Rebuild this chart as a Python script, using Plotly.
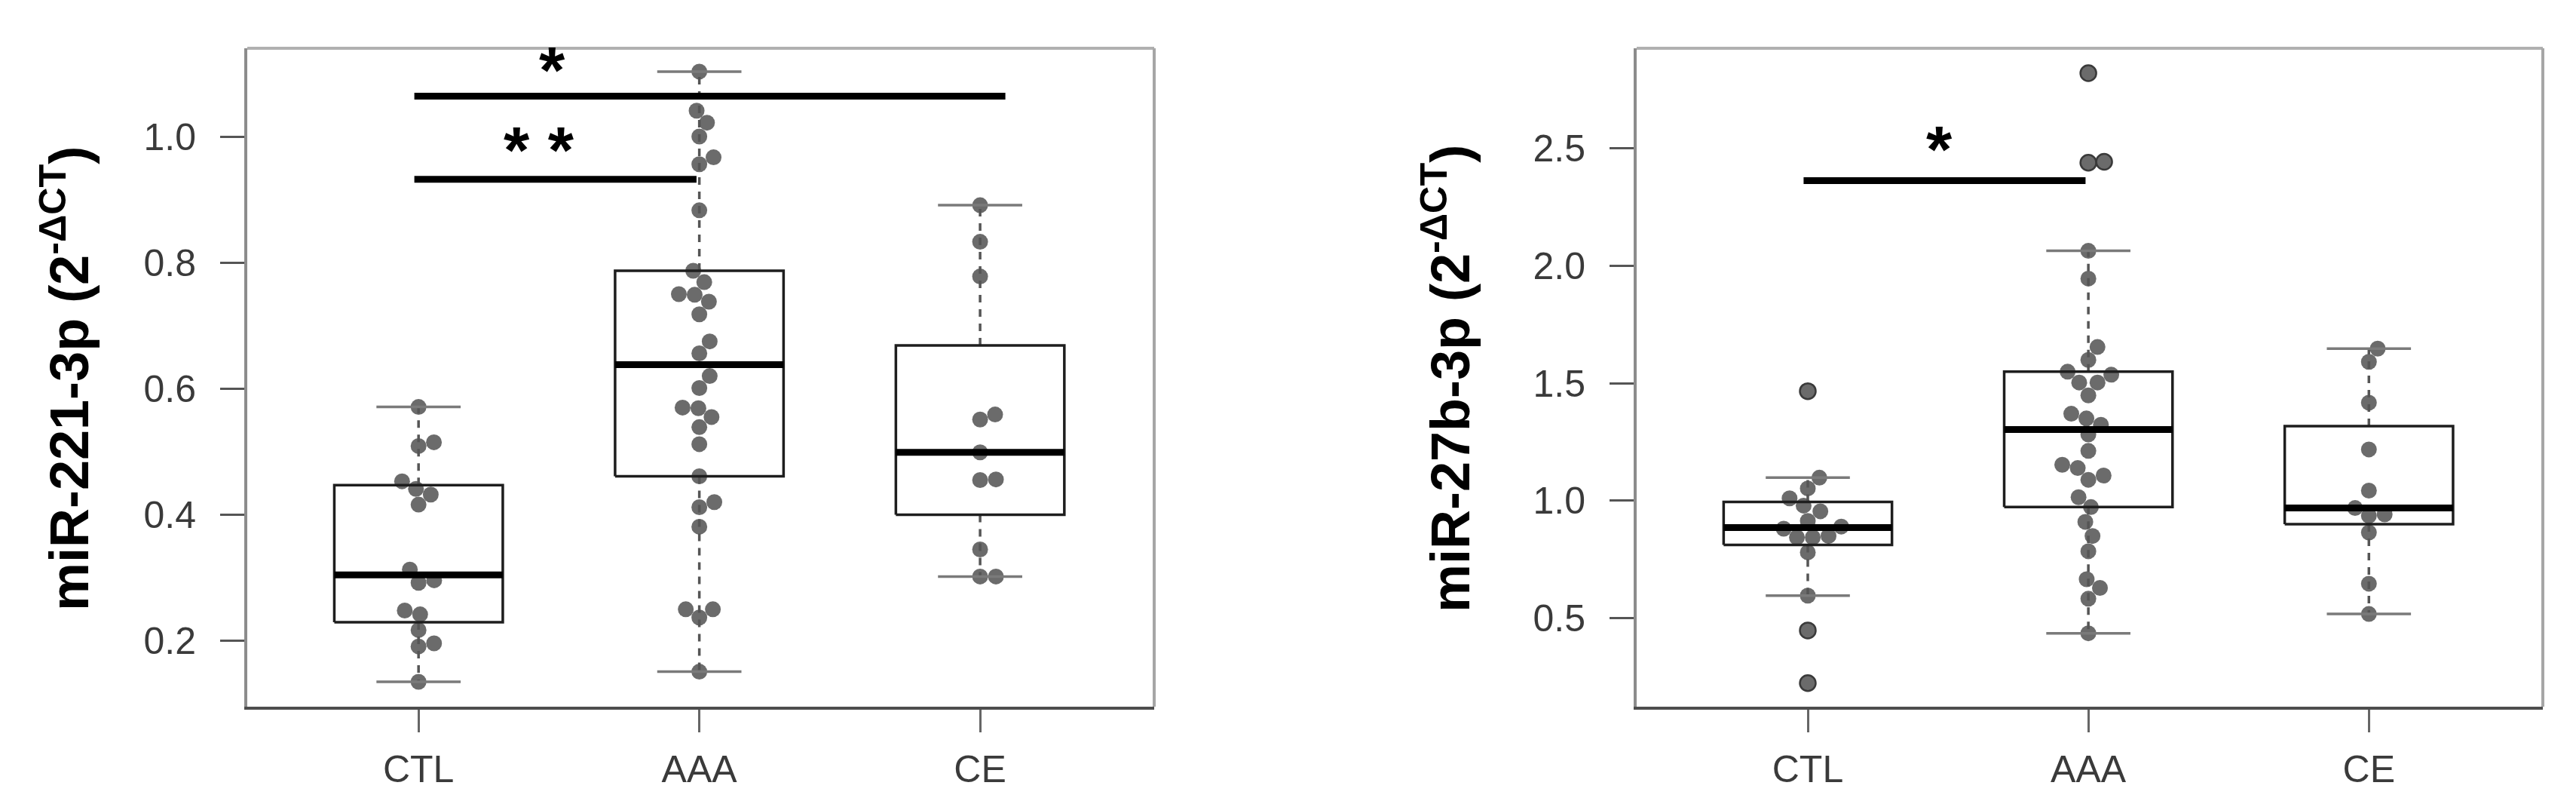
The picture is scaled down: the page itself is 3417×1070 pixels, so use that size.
import numpy as np
import plotly.graph_objects as go

W, H = 3417, 1070

groups = ["CTL", "AAA", "CE"]

# miR-221-3p (left panel)
ctl_221 = [0.571, 0.509, 0.515, 0.453, 0.441, 0.432, 0.416, 0.313, 0.292, 0.296,
           0.242, 0.248, 0.217, 0.191, 0.196, 0.135]
aaa_221 = [1.103, 1.041, 1.022, 1.000, 0.967, 0.956, 0.883, 0.787, 0.769, 0.750,
           0.749, 0.738, 0.718, 0.675, 0.656, 0.620, 0.601, 0.570, 0.569, 0.555,
           0.539, 0.512, 0.461, 0.420, 0.412, 0.381, 0.250, 0.237, 0.250, 0.151]
ce_221 = [0.891, 0.833, 0.778, 0.559, 0.551, 0.499, 0.456, 0.455, 0.345, 0.302, 0.302]

# miR-27b-3p (right panel)
ctl_27b = [1.466, 1.098, 1.052, 1.010, 0.979, 0.955, 0.914, 0.890, 0.881, 0.850,
           0.844, 0.844, 0.780, 0.596, 0.448, 0.224]
aaa_27b = [2.819, 2.442, 2.438, 2.063, 1.945, 1.654, 1.599, 1.549, 1.536, 1.503,
           1.503, 1.448, 1.370, 1.350, 1.323, 1.282, 1.212, 1.153, 1.139, 1.107,
           1.089, 1.015, 0.973, 0.910, 0.850, 0.785, 0.666, 0.629, 0.583, 0.436]
ce_27b = [1.647, 1.591, 1.417, 1.218, 1.043, 0.969, 0.942, 0.936, 0.865, 0.647, 0.518]

# significance bars: (from group, to group, height, label, label height, label x)
sig_221 = [(1, 3.09, 1.064, "*", 1.1125, 1.476), (1, 1.99, 0.932, "* *", 0.9865, 1.43)]
sig_27b = [(1, 1.99, 2.362, "*", 2.517, 1.47)]

yticks_221 = [0.2, 0.4, 0.6, 0.8, 1.0]
yticks_27b = [0.5, 1.0, 1.5, 2.0, 2.5]

PT = "#6b6b6b"
D = 21  # dot diameter in px
XR = [0.39, 3.62]


def fivenum(v):
    x = np.sort(np.asarray(v, float))
    n = len(x)
    n4 = np.floor((n + 3) / 2) / 2
    d = np.array([1, n4, (n + 1) / 2, n + 1 - n4, n]) - 1
    return 0.5 * (x[np.floor(d).astype(int)] + x[np.ceil(d).astype(int)])


def swarm(values, ppu, d=D):
    # simple beeswarm ("swarm" style), offsets in px
    y = np.asarray(values, float) * ppu
    xs = np.zeros(len(y))
    placed = []
    for i in np.argsort(y, kind="stable"):
        near = sorted([j for j in placed if abs(y[j] - y[i]) < d], key=lambda j: abs(y[j] - y[i]))
        offs = [np.sqrt(d * d - (y[j] - y[i]) ** 2) for j in near]
        cands = [0.0] + [xs[j] + o for j, o in zip(near, offs)] + [xs[j] - o for j, o in zip(near, offs)]
        best = None
        for c in cands:
            ok = all((c - xs[j]) ** 2 + (y[i] - y[j]) ** 2 >= 0.999 * d * d for j in near)
            if ok and (best is None or abs(c) < abs(best)):
                best = c
        xs[i] = best
        placed.append(i)
    return xs


def panel(fig, data, xa, ya, xdom, ydom, yrange, yticks, sigs, title, title_x):
    xref, yref = xa.replace("axis", ""), ya.replace("axis", "")
    ppx = (xdom[1] - xdom[0]) * W / (XR[1] - XR[0])
    ppy = (ydom[1] - ydom[0]) * H / (yrange[1] - yrange[0])

    for k, vals in enumerate(data):
        c = k + 1
        v = np.asarray(vals, float)
        q = fivenum(v)
        iqr = q[3] - q[1]
        hi = v[v <= q[3] + 1.5 * iqr].max()
        lo = v[v >= q[1] - 1.5 * iqr].min()
        out = v[(v > hi) | (v < lo)]

        xs = c + swarm(v, ppy) / ppx
        fig.add_trace(go.Scatter(x=xs, y=v, mode="markers", xaxis=xref, yaxis=yref,
                                 marker=dict(size=D, color=PT, line=dict(width=0))))
        if len(out):
            xo = xs[(v > hi) | (v < lo)]
            fig.add_trace(go.Scatter(x=xo, y=out, mode="markers", xaxis=xref, yaxis=yref,
                                     marker=dict(size=D, symbol="circle-open", color="#3a3a3a",
                                                 line=dict(width=2.5))))
        # whiskers
        fig.add_trace(go.Scatter(x=[c, c, None, c, c], y=[q[3], hi, None, q[1], lo], mode="lines",
                                 xaxis=xref, yaxis=yref,
                                 line=dict(color="#555555", width=3.5, dash="10px,9px")))
        fig.add_trace(go.Scatter(x=[c - 0.15, c + 0.15, None, c - 0.15, c + 0.15],
                                 y=[hi, hi, None, lo, lo], mode="lines", xaxis=xref, yaxis=yref,
                                 line=dict(color="#7a7a7a", width=3.5)))
        # box
        fig.add_trace(go.Scatter(x=[c - 0.3, c + 0.3, c + 0.3, c - 0.3, c - 0.3],
                                 y=[q[1], q[1], q[3], q[3], q[1]], mode="lines",
                                 xaxis=xref, yaxis=yref, line=dict(color="#1e1e1e", width=3.5)))
        fig.add_trace(go.Scatter(x=[c - 0.3, c + 0.3], y=[q[2], q[2]], mode="lines",
                                 xaxis=xref, yaxis=yref, line=dict(color="black", width=9)))

    for a, b, h, lab, ly, lx in sigs:
        fig.add_trace(go.Scatter(x=[a - 0.015, b], y=[h, h], mode="lines", xaxis=xref, yaxis=yref,
                                 line=dict(color="black", width=9)))
        fig.add_annotation(x=lx, y=ly, xref=xref, yref=yref, text=lab, showarrow=False,
                           xanchor="center", yshift=-6,
                           font=dict(family="Liberation Sans", size=88, color="black", weight="bold"))

    fig.add_annotation(x=title_x / W, y=1 - 494 / H, xref="paper", yref="paper", text=title,
                       textangle=-90, showarrow=False, xanchor="center", yanchor="middle",
                       font=dict(family="Liberation Sans", size=72, color="black", weight="bold"))

    tick_font = dict(family="Liberation Sans", size=50, color="#3a3a3a")
    fig.update_layout(**{
        xa: dict(domain=xdom, range=XR, anchor=yref, tickvals=[1, 2, 3], ticktext=groups,
                 ticks="outside", ticklen=30, tickwidth=3, tickcolor="#666666",
                 showline=True, linecolor="#4d4d4d", linewidth=4, showgrid=False,
                 zeroline=False, tickfont=tick_font, ticklabelstandoff=6),
        ya: dict(domain=ydom, range=yrange, anchor=xref, tickvals=yticks,
                 ticktext=["%.1f" % t for t in yticks],
                 ticks="outside", ticklen=32, tickwidth=3, tickcolor="#555555",
                 showline=True, linecolor="#8c8c8c", linewidth=4, showgrid=False,
                 zeroline=False, tickfont=tick_font, ticklabelstandoff=22),
    })
    # light top and right frame
    fig.add_shape(type="line", xref=xref + " domain", yref=yref + " domain",
                  x0=0, x1=1, y0=1, y1=1, line=dict(color="#b0b0b0", width=4))
    fig.add_shape(type="line", xref=xref + " domain", yref=yref + " domain",
                  x0=1, x1=1, y0=0, y1=1, line=dict(color="#a6a6a6", width=4))


fig = go.Figure()
ydom = [1 - 929 / H, 1 - 56 / H]
panel(fig, [ctl_221, aaa_221, ce_221], "xaxis", "yaxis", [320 / W, 1523 / W], ydom,
      [0.0955, 1.140], yticks_221, sig_221, "miR-221-3p (2<sup>-ΔCT</sup>)", 78)
panel(fig, [ctl_27b, aaa_27b, ce_27b], "xaxis2", "yaxis2", [2163 / W, 3365 / W], ydom,
      [0.1236, 2.925], yticks_27b, sig_27b, "miR-27b-3p (2<sup>-ΔCT</sup>)", 1910)

fig.update_layout(width=W, height=H, margin=dict(l=0, r=0, t=0, b=0), showlegend=False,
                  paper_bgcolor="white", plot_bgcolor="white")

fig.write_html("out.html")
